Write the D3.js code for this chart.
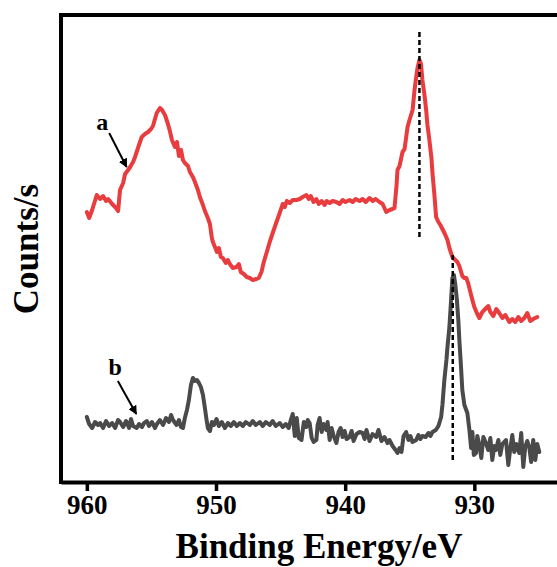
<!DOCTYPE html>
<html><head><meta charset="utf-8">
<script src="https://cdn.jsdelivr.net/npm/d3@7"></script>
<style>html,body{margin:0;padding:0;background:#fff;}svg{display:block;}</style>
</head><body>
<svg id="chart" width="557" height="567"></svg>
<script>
// Binding energy (eV) and intensity (a.u.)
const curveA = [
[960.0,269],[959.82,263],[959.59,271],[959.23,286],[958.97,282],[958.74,285],[958.51,280],[958.35,282],[958.04,277],[957.74,273],[957.58,270],
[957.43,291],[957.19,298],[957.04,307],[956.81,311],[956.65,314],[956.42,319],[956.27,324],[956.04,333],[955.75,344],[955.50,347],[955.26,349],
[955.03,352],[954.88,355],[954.59,368],[954.34,373],[954.18,371],[953.95,366],[953.72,357],[953.57,350],[953.41,341],[953.18,334],[953.02,339],
[952.87,325],[952.71,331],[952.56,321],[952.41,318],[952.17,315],[952.02,309],[951.79,304],[951.63,299],[951.40,291],[951.25,284],[951.01,276],
[950.86,270],[950.63,263],[950.47,257],[950.32,243],[950.24,239],[950.08,234],[949.93,229],[949.78,233],[949.62,224],[949.47,223],[949.24,218],
[949.08,221],[948.93,217],[948.70,213],[948.41,214],[948.23,217],[948.08,209],[947.85,207],[947.62,204],[947.38,203],[947.15,201],[946.87,202],
[946.69,203],[946.48,209],[946.30,219],[946.09,228],[945.84,239],[945.61,248],[945.37,257],[945.07,268],[944.83,277],[944.67,274],[944.52,280],
[944.29,278],[944.06,281],[943.77,281],[943.52,282],[943.29,284],[943.00,286],[942.82,282],[942.67,285],[942.44,279],[942.23,282],[942.05,277],
[941.82,280],[941.59,276],[941.43,280],[941.20,278],[940.97,280],[940.68,279],[940.43,277],[940.20,281],[939.97,279],[939.66,281],[939.42,279],
[939.19,282],[938.88,280],[938.65,282],[938.41,279],[938.11,283],[937.87,280],[937.64,282],[937.34,279],[937.10,277],[936.82,269],[936.56,271],
[936.33,272],[936.18,273],[936.02,296],[935.95,311],[935.79,315],[935.56,329],[935.40,332],[935.17,354],[935.02,361],[934.78,371],[934.63,391],
[934.50,404],[934.40,413],[934.25,421],[934.13,417],[934.02,401],[933.86,386],[933.73,371],[933.63,356],[933.48,341],[933.32,323],[933.24,308],
[933.09,286],[932.96,264],[932.78,259],[932.63,256],[932.47,252],[932.24,246],[932.08,241],[931.93,233],[931.70,224],[931.47,221],[931.31,219],
[931.16,215],[930.93,205],[930.77,203],[930.62,203],[930.46,197],[930.31,189],[930.15,181],[930.00,174],[929.77,167],[929.61,163],[929.38,169],
[929.15,172],[928.92,175],[928.76,169],[928.53,165],[928.30,172],[928.07,168],[927.83,163],[927.60,166],[927.29,159],[927.06,162],[926.83,159],
[926.60,164],[926.37,160],[926.13,163],[925.90,168],[925.67,160],[925.44,162],[925.13,164]
];
const curveB = [
[960.0,64],[959.82,57],[959.59,53],[959.36,59],[959.13,56],[958.97,58],[958.74,53],[958.51,60],[958.28,55],[958.04,58],[957.81,53],[957.58,61],
[957.43,59],[957.19,54],[956.96,60],[956.73,53],[956.58,62],[956.42,55],[956.14,53],[955.96,57],[955.73,54],[955.57,58],[955.36,60],[955.19,55],
[954.96,59],[954.72,53],[954.57,57],[954.34,61],[954.10,56],[953.87,63],[953.64,59],[953.48,66],[953.33,61],[953.05,56],[952.87,61],[952.71,54],
[952.56,53],[952.41,63],[952.25,71],[952.10,81],[951.94,96],[951.79,103],[951.63,100],[951.48,101],[951.32,98],[951.17,94],[951.01,86],[950.86,73],
[950.73,61],[950.63,53],[950.47,50],[950.32,59],[950.16,56],[949.96,62],[949.78,55],[949.55,59],[949.31,53],[949.08,58],[948.85,55],[948.62,59],
[948.39,55],[948.15,58],[947.92,55],[947.69,59],[947.38,56],[947.15,60],[946.92,56],[946.61,59],[946.38,55],[946.14,59],[945.84,56],[945.61,60],
[945.37,55],[945.07,58],[944.83,54],[944.60,57],[944.37,53],[944.21,61],[944.06,67],[943.90,45],[943.75,63],[943.59,43],[943.38,41],[943.20,59],
[943.00,54],[942.90,61],[942.75,58],[942.59,43],[942.44,39],[942.23,41],[942.13,56],[941.98,63],[941.82,49],[941.67,57],[941.46,51],[941.36,59],
[941.20,41],[941.05,53],[940.89,45],[940.68,38],[940.51,49],[940.35,53],[940.20,44],[940.04,50],[939.89,42],[939.66,44],[939.50,50],[939.35,40],
[939.12,47],[938.88,49],[938.65,48],[938.50,42],[938.35,51],[938.11,40],[937.88,47],[937.60,44],[937.42,51],[937.19,40],[936.96,44],[936.72,38],
[936.57,41],[936.33,35],[936.10,31],[935.95,28],[935.79,33],[935.64,29],[935.48,45],[935.28,49],[935.10,41],[934.95,45],[934.79,39],[934.50,41],
[934.33,46],[934.17,42],[934.02,45],[933.77,44],[933.55,48],[933.40,45],[933.24,49],[932.98,51],[932.78,55],[932.57,64],[932.47,76],[932.32,101],
[932.16,121],[932.08,134],[931.93,154],[931.80,181],[931.70,203],[931.58,206],[931.47,196],[931.35,181],[931.24,161],[931.16,141],[931.04,116],
[930.93,91],[930.77,76],[930.54,68],[930.38,51],[930.25,33],[930.15,49],[930.04,26],[929.87,28],[929.77,45],[929.61,36],[929.46,23],[929.30,44],
[929.10,38],[928.92,31],[928.76,43],[928.61,21],[928.45,35],[928.32,31],[928.14,41],[927.99,26],[927.83,37],[927.55,41],[927.37,16],[927.21,33],
[927.06,46],[926.91,29],[926.75,37],[926.52,28],[926.37,48],[926.21,14],[926.06,34],[925.90,40],[925.75,34],[925.60,19],[925.44,41],[925.28,21],
[925.13,37],[924.97,29]
];
const xTicks = [960, 950, 940, 930];
const peakLines = [ {x: 934.25, y0: 244, y1: 451}, {x: 931.67, y0: 21, y1: 228} ];
const labels = [
  {text: "a", x: 958.8, y: 351, ax0: 958.27, ay0: 348, ax1: 956.92, ay1: 314},
  {text: "b", x: 957.8, y: 106, ax0: 957.6, ay0: 100, ax1: 956.17, ay1: 67}
];
const xTitle = "Binding Energy/eV";
const yTitle = "Counts/s";

const svg = d3.select("#chart");
const W = 557, H = 567;
const mLeft = 61, mTop = 15, mBottom = 482;
const x = d3.scaleLinear().domain([962, 923.6]).range([mLeft, W]);
const y = d3.scaleLinear().domain([0, 466]).range([481, 15]);
const serif = "'Liberation Serif','Times New Roman',serif";

svg.append("defs").append("marker")
  .attr("id","arrow").attr("viewBox","0 0 10 10").attr("refX",9).attr("refY",5)
  .attr("markerWidth",4.5).attr("markerHeight",4.5).attr("orient","auto")
  .append("path").attr("d","M0,0 L10,5 L0,10 Z").attr("fill","#000");

// curves
const line = d3.line().x(d => x(d[0])).y(d => y(d[1]));
svg.append("path").datum(curveA).attr("d", line)
  .attr("fill","none").attr("stroke","#e83c3e").attr("stroke-width",4)
  .attr("stroke-linejoin","round").attr("stroke-linecap","round");
svg.append("path").datum(curveB).attr("d", line)
  .attr("fill","none").attr("stroke","#4a4a4a").attr("stroke-width",4)
  .attr("stroke-linejoin","round").attr("stroke-linecap","round");

// dashed peak lines
svg.selectAll(".peak").data(peakLines).enter().append("line")
  .attr("x1", d => x(d.x)).attr("x2", d => x(d.x))
  .attr("y1", d => y(d.y0)).attr("y2", d => y(d.y1))
  .attr("stroke","#000").attr("stroke-width",2.5).attr("stroke-dasharray","5,3");

// frame: left + top
svg.append("line").attr("x1",mLeft).attr("x2",mLeft).attr("y1",mTop-2).attr("y2",mBottom+2)
  .attr("stroke","#000").attr("stroke-width",4);
svg.append("line").attr("x1",mLeft-2).attr("x2",W).attr("y1",mTop).attr("y2",mTop)
  .attr("stroke","#000").attr("stroke-width",4);

// bottom axis
const ax = svg.append("g").attr("transform",`translate(0,${mBottom})`)
  .call(d3.axisBottom(x).tickValues(xTicks).tickFormat(d3.format("d")).tickSize(9).tickSizeOuter(0).tickPadding(4));
ax.select(".domain").attr("stroke","#000").attr("stroke-width",4);
ax.selectAll(".tick line").attr("stroke","#000").attr("stroke-width",3.5);
ax.selectAll(".tick text").attr("fill","#000").attr("font-family",serif)
  .attr("font-weight","bold").attr("font-size",27);

// titles
svg.append("text").attr("x",319).attr("y",558).attr("text-anchor","middle")
  .attr("font-family",serif).attr("font-weight","bold").attr("font-size",35).text(xTitle);
svg.append("text").attr("transform","translate(38,249) rotate(-90)").attr("text-anchor","middle")
  .attr("font-family",serif).attr("font-weight","bold").attr("font-size",35).text(yTitle);

// annotations
labels.forEach(l => {
  svg.append("text").attr("x",x(l.x)).attr("y",y(l.y)).attr("text-anchor","middle")
    .attr("font-family",serif).attr("font-weight","bold").attr("font-size",24).text(l.text);
  svg.append("line").attr("x1",x(l.ax0)).attr("y1",y(l.ay0)).attr("x2",x(l.ax1)).attr("y2",y(l.ay1))
    .attr("stroke","#000").attr("stroke-width",2).attr("marker-end","url(#arrow)");
});
</script>
</body></html>
